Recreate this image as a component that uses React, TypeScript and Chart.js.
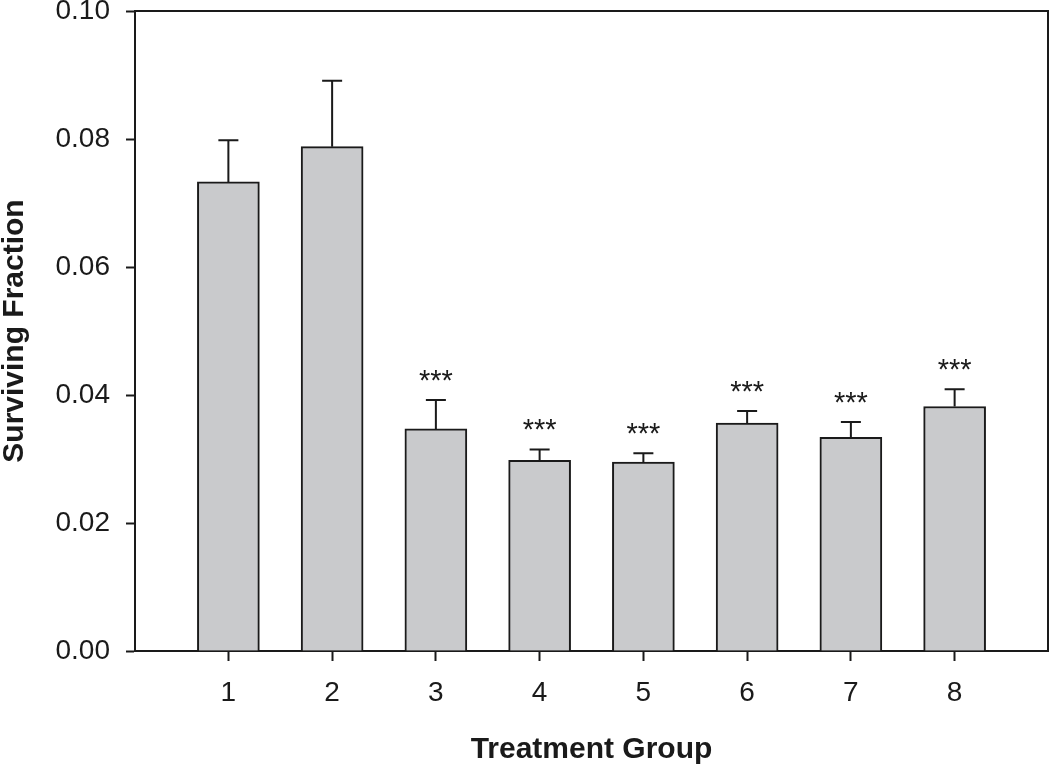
import React, { useEffect, useRef } from "react";
import { Chart, registerables } from "chart.js";

Chart.register(...registerables);

const groups = [1, 2, 3, 4, 5, 6, 7, 8];
const groupLabels = ["1", "2", "3", "4", "5", "6", "7", "8"];
const means = [0.0733, 0.0788, 0.0347, 0.0298, 0.0295, 0.0356, 0.0334, 0.0382];
const errors = [0.0065, 0.0103, 0.0045, 0.0017, 0.0014, 0.0019, 0.0024, 0.0027];
const significance = ["", "", "***", "***", "***", "***", "***", "***"];
const yTicks = [0, 0.02, 0.04, 0.06, 0.08, 0.1];

const FONT = "'Liberation Sans', Arial, Helvetica, sans-serif";

const errorBarPlugin = {
  id: "errorBars",
  afterDatasetsDraw(chart: any) {
    const ctx = chart.ctx;
    const xs = chart.scales.x;
    const ys = chart.scales.y;
    ctx.save();
    ctx.strokeStyle = "#1a1a1a";
    ctx.lineWidth = 2;
    ctx.fillStyle = "#1a1a1a";
    ctx.font = `29px ${FONT}`;
    ctx.textAlign = "center";
    ctx.textBaseline = "alphabetic";
    groups.forEach((g, i) => {
      const x = xs.getPixelForValue(g);
      const yBar = ys.getPixelForValue(means[i]);
      const yTop = ys.getPixelForValue(means[i] + errors[i]);
      ctx.beginPath();
      ctx.moveTo(x, yBar);
      ctx.lineTo(x, yTop);
      ctx.moveTo(x - 10, yTop);
      ctx.lineTo(x + 10, yTop);
      ctx.stroke();
      if (significance[i]) {
        ctx.fillText(significance[i], x, yTop - 10);
      }
    });
    // frame: top and right
    const a = chart.chartArea;
    ctx.beginPath();
    ctx.moveTo(a.left, a.top);
    ctx.lineTo(a.right, a.top);
    ctx.lineTo(a.right, a.bottom);
    ctx.stroke();
    ctx.restore();
  },
};

export default function App() {
  const canvasRef = useRef<HTMLCanvasElement | null>(null);

  useEffect(() => {
    if (!canvasRef.current) return;
    const chart = new Chart(canvasRef.current, {
      type: "bar",
      data: {
        datasets: [
          {
            data: groups.map((g, i) => ({ x: g, y: means[i] })),
            backgroundColor: "#c9cacc",
            borderColor: "#1a1a1a",
            borderWidth: 2,
            barThickness: 62,
          },
        ],
      },
      options: {
        animation: false,
        responsive: false,
        maintainAspectRatio: false,
        layout: { padding: { top: 11, right: 2, left: 0, bottom: 0 } },
        plugins: {
          legend: { display: false },
          tooltip: { enabled: false },
        },
        scales: {
          x: {
            type: "linear",
            min: 0.1,
            max: 8.9,
            offset: false,
            afterBuildTicks: (s: any) => {
              s.ticks = groups.map((v) => ({ value: v }));
            },
            afterFit: (s: any) => {
              s.height = 116;
              s.paddingLeft = 0;
              s.paddingRight = 0;
              s.paddingTop = 0;
              s.paddingBottom = 0;
            },
            ticks: {
              color: "#1a1a1a",
              font: { family: FONT, size: 28 },
              padding: 15,
              maxRotation: 0,
              autoSkip: false,
              callback: (v: any) => {
                const i = groups.indexOf(Number(v));
                return i >= 0 ? groupLabels[i] : "";
              },
            },
            grid: {
              offset: false,
              drawOnChartArea: false,
              drawTicks: true,
              tickLength: 10,
              tickWidth: 2,
              tickColor: "#1a1a1a",
            },
            border: { display: true, color: "#1a1a1a", width: 2 },
            title: {
              display: true,
              text: "Treatment Group",
              color: "#1a1a1a",
              font: { family: FONT, size: 30, weight: "bold", lineHeight: 1 },
              padding: { top: 0, bottom: 2 },
            },
          },
          y: {
            min: 0,
            max: 0.1,
            afterBuildTicks: (s: any) => {
              s.ticks = yTicks.map((v) => ({ value: v }));
            },
            afterFit: (s: any) => {
              s.width = 135;
              s.paddingLeft = 0;
              s.paddingRight = 0;
              s.paddingTop = 0;
              s.paddingBottom = 0;
            },
            ticks: {
              color: "#1a1a1a",
              font: { family: FONT, size: 28 },
              padding: 16,
              callback: (v: any) => Number(v).toFixed(2),
            },
            grid: {
              drawOnChartArea: false,
              drawTicks: true,
              tickLength: 9,
              tickWidth: 2,
              tickColor: "#1a1a1a",
            },
            border: { display: true, color: "#1a1a1a", width: 2 },
            title: {
              display: true,
              text: "Surviving Fraction",
              color: "#1a1a1a",
              font: { family: FONT, size: 30, weight: "bold", lineHeight: 1 },
              padding: { top: 0, bottom: 0 },
            },
          },
        },
      },
      plugins: [errorBarPlugin],
    } as any);
    return () => chart.destroy();
  }, []);

  return (
    <div
      style={{
        position: "fixed",
        left: 0,
        top: 0,
        width: 1050,
        height: 767,
        background: "#fff",
      }}
    >
      <canvas ref={canvasRef} width={1050} height={767} style={{ display: "block" }} />
    </div>
  );
}
